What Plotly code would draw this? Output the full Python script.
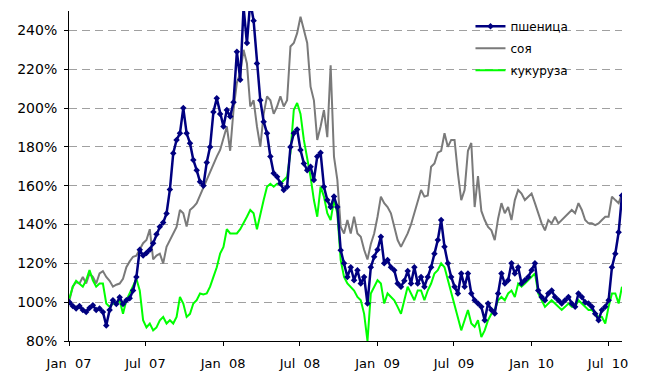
import pandas as pd
import plotly.graph_objects as go

# Values in % (start = 100%), sampled evenly from 2 Jan 2007 to 3 Aug 2010
wheat = [
    100, 98, 96.7, 98, 96, 95, 97, 98.4, 96, 96.7,
    95, 88, 96, 101, 99, 102.5, 99, 101, 102, 106,
    113, 127, 124, 125.3, 127, 130.4, 135, 138.8, 141, 145.7,
    158, 176.7, 183.6, 187, 200, 187, 181.9, 173.3, 168, 162,
    160, 172, 180, 198, 205, 197, 190.5, 199, 195.6, 203,
    229, 214.6, 252, 233.5, 255, 245, 223, 204, 193, 187,
    175, 166.4, 164.6, 161.2, 157.8, 159.5, 180, 187, 189, 178.4,
    171.5, 168, 169.8, 163, 175, 177, 159.5, 152.6, 149, 154.4,
    149, 126.8, 120, 113, 118, 111.3, 116.5, 109.6, 113, 99.3,
    118, 123.4, 127, 133.7, 120, 121.7, 118, 116.5, 109.6, 108,
    111, 116, 109.6, 118, 109.6, 113, 108, 113, 118, 125,
    132, 142.3, 128.5, 120, 113, 108, 104.5, 114.8, 108, 114.8,
    104.5, 101, 99.3, 97.6, 90.7, 99.3, 96, 94.2, 104.5, 114.8,
    109.6, 111.3, 120, 114.8, 118, 109.6, 111.3, 113, 116.5, 120,
    106, 102.7, 101, 104.5, 106, 102.7, 101, 99.3, 101, 102.7,
    99.3, 97.6, 104.5, 102.7, 100, 99.3, 97.6, 94, 90.7, 96,
    97.6, 101, 118, 125, 136, 155,
]
soy = [
    101, 108, 110.4, 109.6, 113, 109.6, 114.8, 113, 109.6, 114.8,
    116, 113, 111, 108, 109, 109.6, 112, 118, 121, 123.4,
    124, 127, 130.4, 132, 137.6, 122, 124, 125, 120, 128.5,
    132, 135.4, 138.8, 147.5, 145.8, 139, 147.5, 149, 151, 155,
    159, 163, 167, 171.5, 175, 178.4, 184, 190.5, 178, 199,
    213, 218, 230, 223, 200.8, 204, 190.5, 180, 197, 206,
    204, 197, 200.8, 206, 200.8, 204, 231.7, 233.5, 238.6, 247,
    240.4, 233.5, 211, 204, 183.6, 190.5, 199, 185, 222, 175,
    163, 138.8, 135.4, 142.3, 135.4, 144, 135.4, 133.7, 127, 122,
    130, 135.4, 144, 154.4, 151, 149, 145.8, 138.8, 132, 128.5,
    132, 135.4, 140, 145.8, 151, 157.8, 154.4, 155, 169.8, 171.5,
    177, 178, 187, 180, 183.6, 183.6, 166.4, 152.6, 157.8, 178,
    182, 149, 165, 147, 142.3, 138.8, 137, 132, 143, 151,
    145.8, 149, 142.3, 152.6, 157.8, 156, 152.6, 154.4, 156, 151,
    145.8, 140.6, 137, 142.3, 140.6, 144, 140.6, 142.3, 144, 145.8,
    147.5, 145.8, 151, 147.5, 142.3, 140.6, 140.6, 139.7, 140.6, 142.3,
    144, 144, 154.4, 152.6, 151, 156,
]
corn = [
    102, 108, 111, 109.6, 108, 111.3, 116.5, 111.3, 108, 109.6,
    109.6, 99.3, 97.6, 99.3, 99.3, 101, 94, 101, 104.5, 108,
    112, 106, 90.7, 87, 89, 85.5, 87, 90.7, 92.4, 89,
    90.7, 89, 92.4, 102.7, 99.3, 92.4, 94, 99.3, 101, 104.5,
    104, 104.5, 108, 113, 118, 125, 128.5, 137.6, 135.4, 135.4,
    135.4, 137.6, 140.6, 144, 147.5, 145.8, 137.6, 145.8, 152.6, 159.5,
    161, 159.5, 161, 161, 163, 164.6, 177, 199, 202.6, 197,
    183.6, 175, 164.6, 152.6, 144, 159.5, 154.4, 145.8, 142.3, 152.6,
    145.8, 121.7, 113, 109.6, 108, 106, 102.7, 101, 94, 80,
    104.5, 108, 111.3, 109.6, 99.3, 104.5, 102.7, 101, 97.6, 94,
    101, 108, 104.5, 101, 106, 106, 101, 106, 109.6, 114.8,
    116.5, 120, 118, 111.3, 104.5, 97.6, 90.7, 85.5, 90.7, 96,
    89, 87.3, 90.7, 82, 85.5, 90.7, 94, 96, 101, 102.7,
    101, 104.5, 106, 102.7, 109.6, 108, 109.6, 111.3, 113, 114.8,
    104.5, 101, 97.6, 99.3, 101, 99.3, 97.6, 96, 97.6, 99.3,
    97.6, 97.6, 101, 99.3, 97.6, 96, 96, 94, 92.4, 92.4,
    89, 97.6, 104.5, 104.5, 99.3, 108,
]
names = ["пшеница", "соя", "кукуруза"]
dates = pd.date_range("2007-01-02", "2010-08-03", periods=len(wheat))

font_family = "DejaVu Sans"
fig = go.Figure()
fig.add_trace(go.Scatter(
    x=dates, y=soy, name=names[1], mode="lines",
    line=dict(color="#7a7a7a", width=2), legendrank=2, legendgroup="b"))
fig.add_trace(go.Scatter(
    x=dates, y=corn, name=names[2], mode="lines",
    line=dict(color="#00ff00", width=2), legendrank=3, legendgroup="c"))
fig.add_trace(go.Scatter(
    x=dates, y=wheat, name=names[0], mode="lines+markers",
    line=dict(color="#000080", width=2.5),
    marker=dict(symbol="diamond", size=5, color="#000080"),
    legendrank=1, legendgroup="a"))

fig.update_layout(
    width=642, height=372,
    margin=dict(l=61, r=28, t=3, b=39, autoexpand=False),
    paper_bgcolor="white", plot_bgcolor="white",
    font=dict(family=font_family, size=12, color="black"),
    showlegend=True,
    legend=dict(x=0.726, y=0.99, yref="container", xanchor="left", yanchor="top",
                bgcolor="rgba(0,0,0,0)", font=dict(size=12),
                traceorder="grouped", tracegroupgap=3),
)
fig.update_xaxes(
    type="date", range=["2007-01-01", "2010-08-03"],
    tick0="2007-01-01", dtick="M6", tickformat="%b\u00a0\u00a0%y",
    tickfont=dict(size=13), ticklabelstandoff=6,
    showline=True, linecolor="black", linewidth=1,
    ticks="outside", ticklen=4, tickcolor="black",
    showgrid=False, zeroline=False,
)
fig.update_yaxes(
    range=[80, 250], tick0=80, dtick=20, ticksuffix="%",
    tickfont=dict(size=14), ticklabelstandoff=4,
    showline=True, linecolor="black", linewidth=1,
    ticks="outside", ticklen=4, tickcolor="black",
    showgrid=True, gridcolor="#a0a0a0", gridwidth=1, griddash="8px,5px",
    zeroline=False,
)
fig.write_html("out.html")
